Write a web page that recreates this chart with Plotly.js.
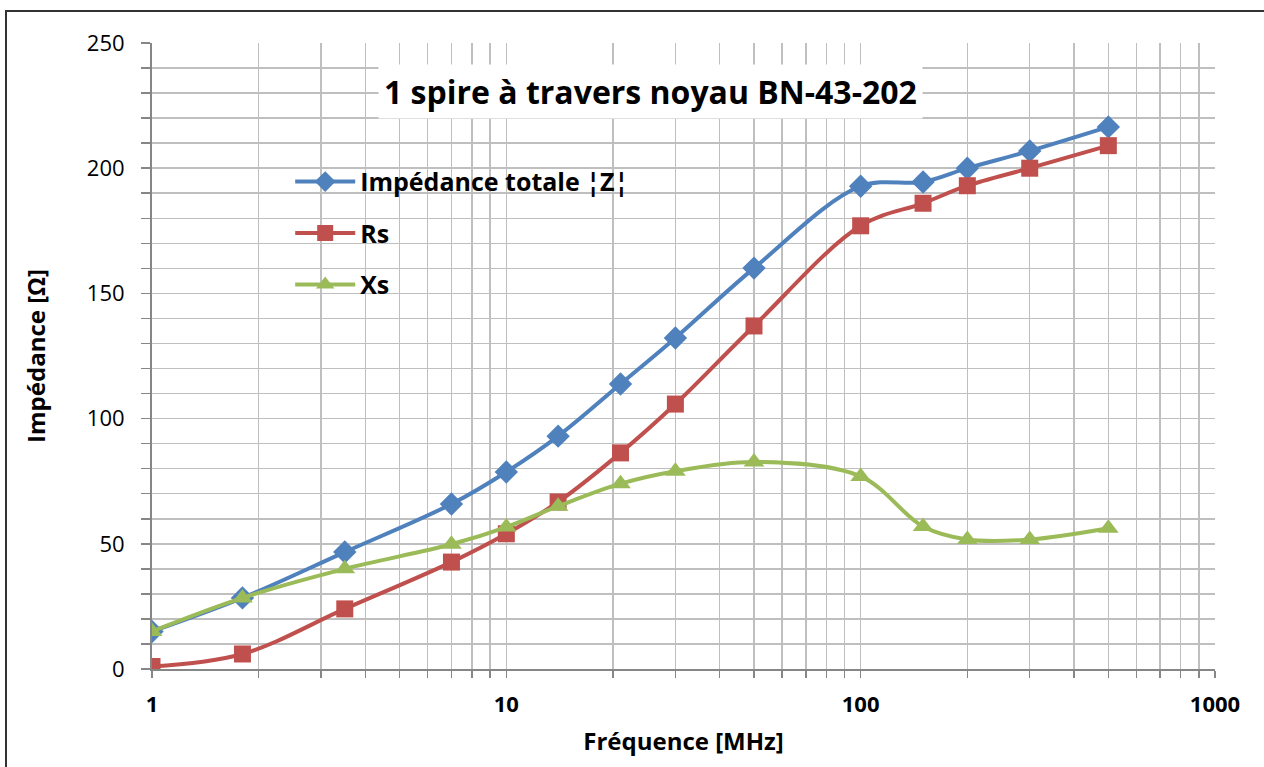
<!DOCTYPE html>
<html>
<head>
<meta charset="utf-8">
<script src="https://cdn.plot.ly/plotly-3.0.1.min.js"></script>
<style>
html,body{margin:0;padding:0;background:#fff;overflow:hidden;}
#chart{width:1264px;height:767px;}
#frame{position:absolute;left:5px;top:10px;width:1300px;height:800px;border-left:2px solid #333;border-top:2px solid #333;pointer-events:none;}
</style>
</head>
<body>
<div id="chart"></div>
<div id="frame"></div>
<script>
const freq = [1, 1.8, 3.5, 7, 10, 14, 21, 30, 50, 100, 150, 200, 300, 500];
const impedanceZ = [15, 28.4, 46.7, 65.9, 78.7, 93, 113.8, 132.2, 160.1, 192.8, 194.5, 200, 206.9, 216.5];
const rs = [1, 6, 24, 42.7, 54, 66.7, 86.3, 105.8, 137, 177, 186, 193, 200, 209];
const xs = [15, 28.4, 40, 49.8, 56.7, 65, 74, 79, 82.7, 76.9, 56.9, 51.7, 51.7, 56.2];
const seriesNames = ['Impédance totale ¦Z¦', 'Rs', 'Xs'];
const chartTitle = '1 spire à travers noyau BN-43-202';
const xTitle = 'Fréquence [MHz]';
const yTitle = 'Impédance [Ω]';

const xTickVals = [];
const xTickText = [];
[1, 10, 100].forEach(d => {
  for (let k = 1; k <= 9; k++) {
    xTickVals.push(k * d);
    xTickText.push(k === 1 ? String(d) : '');
  }
});
xTickVals.push(1000); xTickText.push('1000');

const font = 'Open Sans, Lato, sans-serif';

const traces = [
  {x: freq, y: impedanceZ, name: seriesNames[0], legendgroup: 'a', mode: 'lines+markers',
   line: {color: '#4F81BD', width: 4, shape: 'spline', smoothing: 1},
   marker: {symbol: 'diamond', size: 18, color: '#4F81BD'}},
  {x: freq, y: rs, name: seriesNames[1], legendgroup: 'b', mode: 'lines+markers',
   line: {color: '#C0504D', width: 4, shape: 'spline', smoothing: 1},
   marker: {symbol: 'square', size: 17, color: '#C0504D'}},
  {x: freq, y: xs, name: seriesNames[2], legendgroup: 'c', mode: 'lines+markers',
   line: {color: '#9BBB59', width: 4, shape: 'spline', smoothing: 1},
   marker: {symbol: 'triangle-up', size: 18, color: '#9BBB59'}}
];

const layout = {
  width: 1264, height: 767,
  margin: {l: 152, r: 49, t: 43, b: 98},
  paper_bgcolor: '#fff', plot_bgcolor: '#fff',
  font: {family: font, color: '#000'},
  showlegend: true,
  legend: {x: 0.13, y: 0.815, xanchor: 'left', yanchor: 'top', bgcolor: 'rgba(0,0,0,0)',
           font: {size: 25, family: font, weight: 'bold'}, traceorder: 'grouped', tracegroupgap: 16,
           itemwidth: 60, itemsizing: 'trace'},
  xaxis: {type: 'log', range: [0, 3], tickmode: 'array', tickvals: xTickVals, ticktext: xTickText,
          showgrid: true, gridcolor: '#BFBFBF', gridwidth: 1.5, showline: true, linecolor: '#868686', linewidth: 2,
          ticks: 'outside', ticklen: 7, tickcolor: '#868686', tickwidth: 1.5, zeroline: false,
          ticklabelstandoff: 8,
          tickfont: {size: 22, family: font, weight: 'bold'},
          title: {text: xTitle, font: {size: 24, family: font, weight: 'bold'}, standoff: 16}},
  yaxis: {range: [0, 250], dtick: 50, showgrid: true, gridcolor: '#BFBFBF', gridwidth: 1.5,
          showline: true, linecolor: '#868686', linewidth: 2, zeroline: false,
          ticks: 'outside', ticklen: 9, tickcolor: '#868686', tickwidth: 1.5,
          ticklabelstandoff: 12,
          minor: {dtick: 10, showgrid: true, gridcolor: '#BFBFBF', gridwidth: 1.5, ticks: 'outside', ticklen: 9, tickcolor: '#868686', tickwidth: 1.5},
          tickfont: {size: 22, family: font},
          title: {text: yTitle, font: {size: 24, family: font, weight: 'bold'}, standoff: 34}},
  annotations: [{
    text: '<b>' + chartTitle + '</b>', xref: 'paper', yref: 'paper', x: 0.469, y: 0.922,
    xanchor: 'center', yanchor: 'middle', showarrow: false, bgcolor: '#fff',
    font: {size: 32, family: font, color: '#000'}, borderpad: 5
  }]
};

Plotly.newPlot('chart', traces, layout, {displayModeBar: false, staticPlot: true});
</script>
</body>
</html>
